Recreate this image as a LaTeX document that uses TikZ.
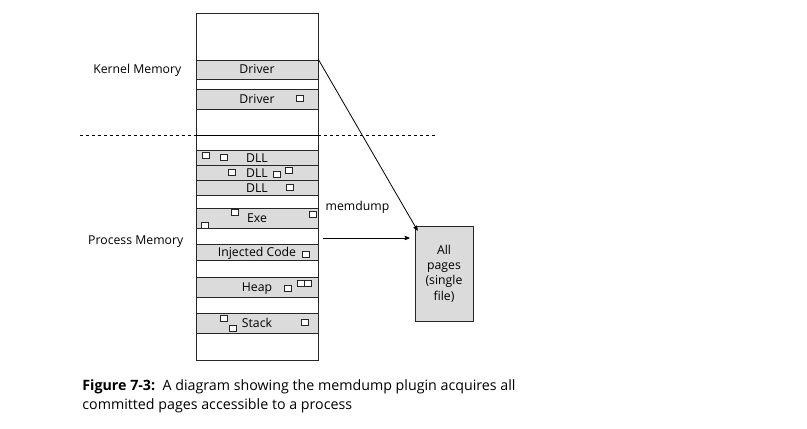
\documentclass[tikz,border=0pt]{standalone}
\usepackage{fontspec}
\setmainfont{Open Sans}
\usetikzlibrary{arrows}

\begin{document}
\begin{tikzpicture}[x=1bp,y=-1bp,>=stealth',thick,
        band/.style={rectangle,draw=black!85,fill=black!14,line width=0.9bp,
          minimum width=122bp,inner sep=0pt,text depth=0.5bp,
          font=\fontsize{12.3}{14}\selectfont},
        page/.style={rectangle,draw=black!85,fill=white,line width=0.6bp,
          minimum width=7bp,minimum height=6bp,inner sep=0pt},
        side label/.style={anchor=east,font=\fontsize{12.3}{14}\selectfont}]
        \useasboundingbox (0,0) rectangle (807,428);
        % memory column
        \node[rectangle,draw=black!85,line width=0.8bp,minimum width=122bp,
          minimum height=347bp,inner sep=0pt] (col) at (257,186.5) {};
        \draw[dashed,line width=0.6bp] (80,135) -- (col.west |- 0,135);
        \draw[dashed,line width=0.6bp] (col.east |- 0,135) -- (436,135);
        \draw[line width=0.6bp] (col.west |- 0,135) -- (col.east |- 0,135);
        % bands
        \node[band, minimum height=19bp] (drv1) at (257,69.5) {Driver};
        \node[band, minimum height=20bp] (drv2) at (257,99) {Driver};
        \node[band, minimum height=15bp] (dll1) at (257,158) {DLL};
        \node[band, minimum height=15bp] (dll2) at (257,173) {DLL};
        \node[band, minimum height=15bp] (dll3) at (257,188) {DLL};
        \node[band, minimum height=20bp] (exe) at (257,218) {Exe};
        \node[band, minimum height=16bp] (inj) at (257,252) {Injected Code};
        \node[band, minimum height=20bp] (heap) at (257,287) {Heap};
        \node[band, minimum height=20bp] (stack) at (257,323) {Stack};
        % pages inside the bands
        \node[page] (p1) at (300,98) {};
        \node[page] (p2) at (206,155) {};
        \node[page] (p3) at (224,157) {};
        \node[page] (p4) at (232,172) {};
        \node[page] (p5) at (277,174) {};
        \node[page] (p6) at (289,170) {};
        \node[page] (p7) at (290,187) {};
        \node[page] (p8) at (235,212) {};
        \node[page] (p9) at (205,225) {};
        \node[page] (p10) at (313,214) {};
        \node[page] (p11) at (305.5,254) {};
        \node[page] (p12) at (288,288) {};
        \node[page] (p13) at (300.5,283) {};
        \node[page] (p14) at (307.5,283) {};
        \node[page] (p15) at (224,318) {};
        \node[page] (p16) at (233,328) {};
        \node[page] (p17) at (305,322) {};
        % labels
        \node[side label] (kernel) at (185,70) {Kernel Memory};
        \node[side label] (process) at (187,242) {Process Memory};
        \node[font=\fontsize{12.3}{14}\selectfont] (memdump) at (357.5,207) {memdump};
        % output file
        \node[rectangle,draw=black!85,fill=black!14,line width=0.9bp,
          minimum width=58bp,minimum height=95bp,inner sep=0pt,
          align=center,font=\fontsize{12.3}{15.3}\selectfont] (pages) at (444,273.5)
          {All\\pages\\(single\\file)};
        \coordinate (dump) at (323,238);
        \draw[->,line width=0.8bp] (drv1.north east) -- ([xshift=3bp,yshift=-5bp]pages.north west);
        \draw[->,line width=0.8bp] (dump) -- ([xshift=-5bp]dump -| pages.west);
        % caption
        \node[anchor=base west,align=left,inner sep=0pt,
          font=\fontsize{14.3}{19}\selectfont] (caption) at (82,409)
          {\textbf{Figure 7-3:}\ \ A diagram showing the memdump plugin acquires all\\
           committed pages accessible to a process};
\end{tikzpicture}
\end{document}
